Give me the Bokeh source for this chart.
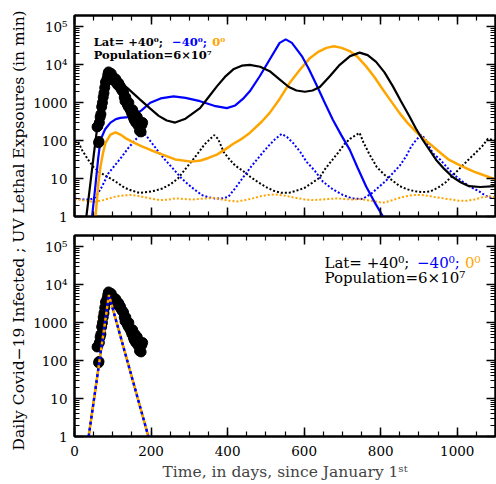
from math import pi
from bokeh.plotting import figure
from bokeh.layouts import row, column
from bokeh.models import (Range1d, LinearAxis, LogAxis, FixedTicker,
                          SingleIntervalTicker, Label, CustomJSTickFormatter)
from bokeh.embed import file_html
from bokeh.resources import INLINE

# ---------------- data ----------------
obs_days = [59, 61, 63, 64, 65, 67, 69, 71, 73, 75, 77, 79, 81, 83, 85, 87, 88, 89, 90,
            92, 94, 96, 98, 100, 102, 104, 106, 108, 110, 112, 114, 116, 118, 120, 122,
            124, 126, 128, 130, 132, 134, 136, 138, 140, 142, 144, 146, 148, 150, 152,
            154, 156, 158, 160, 162, 164, 166, 168, 170, 172, 174, 176, 178]
obs_cases = [230, 240, 88, 95, 300, 420, 500, 780, 1000, 1400, 1800, 2500, 3500, 3600,
             4300, 5300, 6000, 6500, 5600, 5200, 5400, 5900, 4800, 4200, 4700, 4100, 3600,
             4200, 3500, 3000, 3400, 3200, 2600, 2700, 2300, 2100, 2000, 1900, 1400, 1100,
             1400, 1000, 900, 800, 1000, 700, 650, 580, 500, 650, 400, 350, 500, 300, 380,
             420, 250, 330, 180, 300, 170, 260, 300]

north_days = [25, 31, 40, 50, 60, 70, 80, 88, 95, 110, 137, 170, 198, 220, 241, 263, 290,
              328, 350, 372, 393, 415, 437, 458, 485, 510, 535, 560, 580, 602, 622, 641,
              667, 693, 720, 745, 766, 788, 810, 832, 853, 875, 892, 910, 928, 945, 966,
              988, 1010, 1031, 1060, 1100]
north_model = [0.4, 1, 5.6, 40, 250, 1100, 3500, 5800, 5500, 4200, 2500, 1250, 700, 450,
               340, 300, 380, 720, 1400, 2700, 4800, 7600, 9500, 10000, 8900, 6800, 4200,
               2600, 2100, 1950, 2100, 2600, 5000, 10000, 17000, 21000, 18000, 12000, 6300,
               2700, 1100, 440, 210, 105, 56, 31, 18, 11, 7.9, 6.3, 6.0, 6.3]

south_days = [40, 46, 55, 62, 68, 80, 94, 108, 120, 140, 155, 175, 198, 225, 259, 290, 328,
              365, 398, 420, 440, 458, 484, 510, 536, 552, 568, 594, 612, 630, 652, 675,
              697, 719, 740, 762, 784, 806, 830]
south_model = [0.4, 1, 7, 35, 105, 200, 300, 370, 400, 420, 460, 630, 1000, 1300, 1480,
               1350, 1100, 830, 720, 850, 1260, 2000, 5000, 13800, 38000, 47000, 38000,
               17000, 7900, 3300, 1100, 355, 140, 58, 19, 6.2, 2.4, 1.0, 0.3]

equator_days = [50, 55, 62, 68, 75, 81, 94, 107, 120, 133, 155, 176, 200, 220, 263, 306,
                330, 350, 372, 393, 415, 437, 458, 489, 510, 536, 562, 589, 615, 637, 658,
                678, 698, 719, 740, 762, 784, 806, 828, 849, 870, 892, 914, 936, 958, 979,
                1001, 1023, 1045, 1066, 1100]
equator_model = [0.4, 1, 7, 21, 50, 87, 145, 166, 145, 117, 89, 71, 56, 47, 32, 28, 30, 35,
                 43, 58, 83, 112, 160, 316, 540, 1260, 3300, 7400, 15000, 22000, 28000,
                 31000, 28000, 23000, 16000, 9100, 4700, 2200, 1070, 540, 295, 174, 107, 71,
                 46, 31, 24, 19, 15, 12.6, 9.5]

north_uv_days = [0, 10, 20, 35, 50, 65, 80, 95, 110, 130, 150, 170, 190, 210, 230, 250,
                 270, 290, 310, 325, 340, 355, 365, 375, 390, 405, 420, 440, 460, 480, 500,
                 520, 540, 560, 580, 600, 620, 640, 655, 670, 690, 705, 720, 735, 745, 755,
                 770, 790, 810, 830, 850, 870, 890, 910, 930, 950, 970, 990, 1010, 1030,
                 1050, 1065, 1080, 1100]
north_uv = [100, 90, 56, 32, 20, 15, 12, 10, 8, 5.8, 4.8, 4.2, 4.4, 4.8, 5.5, 7, 10, 18, 32,
            50, 80, 112, 140, 112, 50, 32, 22, 16, 11, 8, 6, 4.8, 4.2, 4.2, 4.8, 5.6, 7.6,
            10.5, 18, 28, 50, 80, 112, 140, 160, 90, 45, 20, 12.6, 9, 6.3, 5.2, 4.6, 4.4,
            4.6, 5.8, 8, 12.6, 20, 32, 50, 71, 112, 100]

south_uv_days = [0, 20, 40, 55, 72, 89, 105, 124, 140, 159, 170, 180, 190, 202, 220, 237,
                 258, 280, 305, 332, 350, 367, 385, 402, 420, 436, 462, 485, 506, 525, 541,
                 555, 571, 590, 606, 628, 649, 675, 701, 725, 753, 775, 797, 815, 832, 850,
                 866, 880, 893, 905, 915, 936, 955, 971, 990, 1014, 1035, 1057, 1075, 1092,
                 1100]
south_uv = [3.0, 2.8, 2.8, 3.2, 6.2, 14, 22, 38, 63, 105, 140, 160, 125, 87, 50, 31, 18, 10,
            6, 3.7, 3.2, 3.0, 3.0, 3.3, 5.6, 9.3, 21, 40, 71, 112, 150, 125, 87, 50, 28, 16,
            8.3, 5.2, 3.7, 3.0, 2.9, 4, 6.2, 9, 14, 22, 38, 71, 105, 140, 117, 47, 32, 21,
            13, 8.3, 6, 4.6, 3.5, 3.0, 3.2]

equator_uv_days = [0, 20, 40, 55, 75, 90, 110, 130, 150, 165, 185, 205, 225, 245, 265, 285,
                   305, 325, 345, 365, 385, 405, 425, 445, 465, 485, 505, 525, 545, 565, 585,
                   605, 625, 645, 665, 685, 705, 725, 745, 765, 785, 805, 825, 845, 865, 885,
                   905, 925, 945, 965, 985, 1005, 1025, 1045, 1065, 1085, 1100]
equator_uv = [3.0, 2.7, 2.5, 2.45, 2.7, 3.0, 3.4, 3.6, 3.7, 3.5, 3.2, 2.9, 2.7, 2.8, 3.0,
              2.9, 2.8, 2.9, 3.0, 3.1, 2.8, 2.6, 2.5, 2.7, 3.0, 3.4, 3.7, 3.8, 3.6, 3.3, 3.0,
              2.8, 2.7, 2.8, 2.9, 3.0, 2.9, 2.8, 2.9, 2.7, 2.5, 2.3, 2.6, 3.0, 3.4, 3.7, 3.7,
              3.5, 3.2, 3.0, 2.8, 2.6, 2.6, 2.8, 3.2, 3.4, 3.2]

tri_days = [37, 90, 193]
tri_model = [1, 5400, 1]

y_major = [1, 10, 100, 1000, 10000, 100000]
y_labels = ["1", "10", "100", "1000", "10\u2074", "10\u2075"]
x_major_step = 200

# ---------------- styling ----------------
FONT = "DejaVu Serif"
BLUE = "#0000ff"
ORANGE = "#ffa500"
BLANK = CustomJSTickFormatter(code="return ''")


def panel(height, top, bottom):
    p = figure(width=466, height=height, x_range=Range1d(0, 1100),
               y_range=Range1d(1, 2.0e5), y_axis_type="log",
               toolbar_location=None, output_backend="svg",
               min_border_left=44, min_border_right=1,
               min_border_top=top, min_border_bottom=bottom)
    p.grid.visible = False
    p.outline_line_color = "black"
    p.outline_line_width = 2
    p.add_layout(LinearAxis(), "above")
    p.add_layout(LogAxis(), "right")
    xt = SingleIntervalTicker(interval=x_major_step, num_minor_ticks=4)
    yt = FixedTicker(ticks=y_major,
                     minor_ticks=[m * t for t in y_major for m in range(2, 10)])
    for ax in p.xaxis:
        ax.ticker = xt
    for ax in p.yaxis:
        ax.ticker = yt
    for ax in p.axis:
        ax.major_tick_in = 9
        ax.major_tick_out = 0
        ax.minor_tick_in = 5
        ax.minor_tick_out = 0
        ax.axis_line_width = 2
        ax.major_tick_line_width = 1.5
        ax.minor_tick_line_width = 1.2
        ax.formatter = BLANK
        ax.major_label_standoff = 0
        ax.major_label_text_font_size = "1px"
    left = p.left[0]
    left.formatter = CustomJSTickFormatter(code="return String(tick)")
    left.major_label_overrides = dict(zip(y_major, y_labels))
    left.major_label_text_font = FONT
    left.major_label_text_font_size = "13.5px"
    left.major_label_text_color = "black"
    left.major_label_standoff = 7
    return p


top = panel(226, 15, 10)
bot = panel(258, 9, 48)

# top panel: UV dotted, model solid, data circles
top.line(north_uv_days, north_uv, color="black", line_width=2, line_dash="2 2")
top.line(south_uv_days, south_uv, color=BLUE, line_width=2, line_dash="2 2")
top.line(equator_uv_days, equator_uv, color=ORANGE, line_width=2, line_dash="2 2")
top.line(equator_days, equator_model, color=ORANGE, line_width=2.5)
top.line(south_days, south_model, color=BLUE, line_width=2.2)
top.line(north_days, north_model, color="black", line_width=2.2)
top.scatter(obs_days, obs_cases, size=10, color="black")

# bottom panel
bot.scatter(obs_days, obs_cases, size=10, color="black")
bot.line(tri_days, tri_model, color="black", line_width=2)
bot.line(tri_days, tri_model, color=BLUE, line_width=2.5, line_dash="3 3")
bot.line(tri_days, tri_model, color=ORANGE, line_width=2.5, line_dash="3 3",
         line_dash_offset=3)

xb = bot.below[0]
xb.formatter = CustomJSTickFormatter(code="return String(tick)")
xb.major_label_text_font = FONT
xb.major_label_text_font_size = "13.5px"
xb.major_label_text_color = "black"
xb.major_label_standoff = 9
xb.axis_label = "Time, in days, since January 1\u02e2\u1d57"
xb.axis_label_text_font = FONT
xb.axis_label_text_font_size = "15.5px"
xb.axis_label_text_font_style = "normal"
xb.axis_label_standoff = 4


def legend(p, xs, y1, y2, size, style, first):
    texts = [first, "\u221240\u2070; ", "0\u2070"]
    cols = ["black", BLUE, ORANGE]
    for x, t, c in zip(xs, texts, cols):
        p.add_layout(Label(x=x, y=y1, text=t, text_color=c, text_font=FONT,
                           text_font_size=size, text_font_style=style,
                           text_baseline="middle"))
    p.add_layout(Label(x=xs[0], y=y2, text="Population=6\u00d710\u2077", text_color="black",
                       text_font=FONT, text_font_size=size, text_font_style=style,
                       text_baseline="middle"))


legend(top, [50, 255, 360], 4.0e4, 1.78e4, "11.5px", "bold", "Lat= +40\u2070; ")
legend(bot, [653, 895, 1020], 3.8e4, 1.55e4, "15px", "normal", "Lat=  +40\u2070; ")

lab = figure(width=30, height=484, x_range=Range1d(0, 1), y_range=Range1d(0, 1),
             toolbar_location=None, output_backend="svg", min_border=0)
lab.axis.visible = False
lab.grid.visible = False
lab.outline_line_color = None
lab.add_layout(Label(x=0.6, y=0.525,
                     text="Daily Covid\u221219 Infected ; UV Lethal Expsoures (in min)",
                     angle=pi / 2, text_align="center", text_baseline="middle",
                     text_font=FONT, text_font_size="15.5px", text_color="black"))

layout = row(lab, column(top, bot))
open("out.html", "w").write(file_html(layout, INLINE))
